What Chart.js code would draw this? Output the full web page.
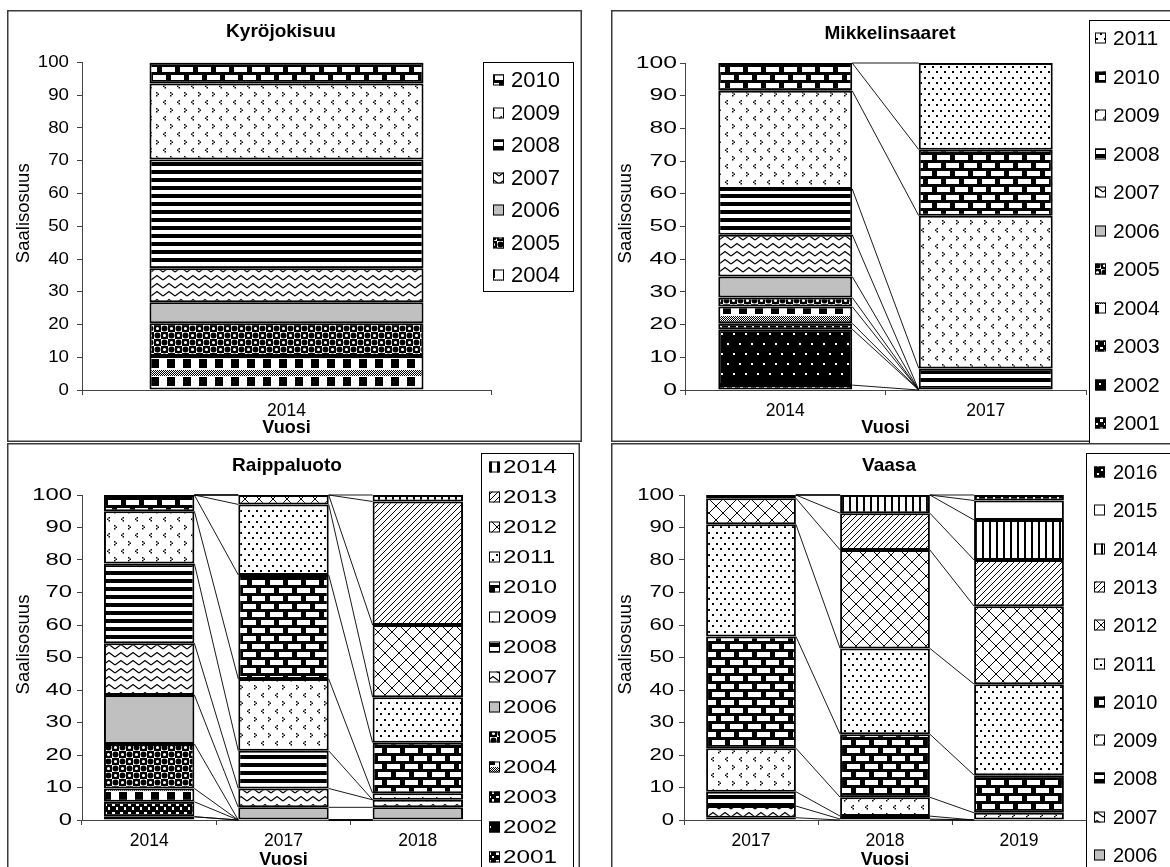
<!DOCTYPE html>
<html>
<head>
<meta charset="utf-8">
<title>Saalisosuus vuosiluokittain</title>
<script src="https://cdn.jsdelivr.net/npm/chart.js@4/dist/chart.umd.min.js"></script>
<style>
  html, body { margin: 0; padding: 0; background: #fff; }
  body { width: 1170px; height: 867px; overflow: hidden; position: relative; }
  canvas { position: absolute; display: block; }
</style>
</head>
<body>
<canvas id="kyro"  width="576" height="433" style="left:7px;top:10px;width:576px;height:433px"></canvas>
<canvas id="mikk"  width="570" height="433" style="left:611px;top:10px;width:570px;height:433px"></canvas>
<canvas id="raip"  width="576" height="430" style="left:7px;top:443px;width:576px;height:430px"></canvas>
<canvas id="vaasa" width="570" height="430" style="left:611px;top:443px;width:570px;height:430px"></canvas>
<script>
// ---- data: share (%) of the catch by year class ----
const shareTicks = [0, 10, 20, 30, 40, 50, 60, 70, 80, 90, 100];

const kyroYears   = ['2014'];
const kyroCohorts = ['2004', '2005', '2006', '2007', '2008', '2009', '2010'];
const kyro2014    = [10.4, 10.0, 6.4, 10.4, 33.2, 23.2, 6.4];

const mikkYears   = ['2014', '2017'];
const mikkCohorts = ['2001', '2002', '2003', '2004', '2005', '2006', '2007', '2008', '2009', '2010', '2011'];
const mikk2014    = [1.5, 17.1, 1.8, 5.1, 2.8, 6.4, 12.8, 14.0, 30.0, 8.5, 0];
const mikk2017    = [0, 0, 0, 0, 0, 0, 0, 6.6, 46.7, 20.2, 26.5];

const raipYears   = ['2014', '2017', '2018'];
const raipCohorts = ['2001', '2002', '2003', '2004', '2005', '2006', '2007', '2008', '2009', '2010', '2011', '2012', '2013', '2014'];
const raip2014    = [1.0, 0, 4.6, 4.1, 13.7, 15.1, 15.9, 24.5, 16.1, 5.0, 0, 0, 0, 0];
const raip2017    = [0, 0, 0, 0, 0, 3.9, 5.8, 11.6, 22.1, 32.0, 21.7, 2.9, 0, 0];
const raip2018    = [0, 0, 0, 0, 0, 3.9, 2.3, 0, 2.0, 15.6, 14.0, 22.2, 38.0, 2.0];

const vaasaYears   = ['2017', '2018', '2019'];
const vaasaCohorts = ['2006', '2007', '2008', '2009', '2010', '2011', '2012', '2013', '2014', '2015', '2016'];
const vaasa2017    = [0.7, 3.6, 4.4, 13.4, 34.4, 34.5, 8.0, 1.0, 0, 0, 0];
const vaasa2018    = [0, 0.3, 0.9, 5.8, 19.4, 26.4, 30.3, 11.3, 5.6, 0, 0];
const vaasa2019    = [0, 0, 0, 2.2, 11.6, 28.0, 24.0, 14.2, 12.3, 6.0, 1.7];

// ---- look ----
const FONT = "'Liberation Sans', Arial, sans-serif";
Chart.defaults.font.family = FONT;
Chart.defaults.color = '#000';

// monochrome fill patterns, one per year class
function tile(w, h, paint) {
  const c = document.createElement('canvas');
  c.width = w; c.height = h;
  const g = c.getContext('2d');
  paint(g, w, h);
  return g.createPattern(c, 'repeat');
}
const B = '#000', W = '#fff';
const fills = {
  '2001': tile(8, 8, g => { g.fillStyle = B; g.fillRect(0, 0, 8, 8); g.fillStyle = W; g.fillRect(1, 1, 3, 3); g.fillRect(5, 5, 2, 2); }),
  '2002': tile(12, 20, g => { g.fillStyle = B; g.fillRect(0, 0, 12, 20); g.fillStyle = W; g.fillRect(2, 3, 2, 2); g.fillRect(8, 13, 2, 2); }),
  '2003': tile(8, 8, g => { g.fillStyle = B; g.fillRect(0, 0, 8, 8); g.fillStyle = W; g.fillRect(1, 1, 3, 2); g.fillRect(5, 4, 2, 3); }),
  '2004': tile(16, 18, g => {
    g.fillStyle = W; g.fillRect(0, 0, 16, 18); g.fillStyle = B;
    for (let y = 0; y < 6; y++) for (let x = 0; x < 16; x++) if ((x + y) % 2 === 0) g.fillRect(x, y, 1, 1);
    g.fillRect(0, 7, 8, 9);
  }),
  '2005': tile(14, 14, g => {
    g.fillStyle = W; g.fillRect(0, 0, 14, 14);
    g.fillStyle = B; g.fillRect(0, 0, 7, 7); g.fillRect(7, 7, 7, 7);
    g.beginPath(); g.arc(10.5, 3.5, 3, 0, Math.PI * 2); g.arc(3.5, 10.5, 3, 0, Math.PI * 2); g.fill();
    g.fillStyle = W; g.beginPath(); g.arc(3.5, 3.5, 1.6, 0, Math.PI * 2); g.arc(10.5, 10.5, 1.6, 0, Math.PI * 2); g.fill();
  }),
  '2006': '#c0c0c0',
  '2007': tile(12, 8, g => {
    g.fillStyle = W; g.fillRect(0, 0, 12, 8);
    g.strokeStyle = B; g.lineWidth = 1.2;
    g.beginPath(); g.moveTo(0, 6); g.lineTo(6, 1.5); g.lineTo(12, 6); g.stroke();
  }),
  '2008': tile(4, 8, g => { g.fillStyle = W; g.fillRect(0, 0, 4, 8); g.fillStyle = B; g.fillRect(0, 0, 4, 4); }),
  '2009': tile(14, 16, g => {
    g.fillStyle = W; g.fillRect(0, 0, 14, 16); g.fillStyle = B;
    g.fillRect(9, 2, 1.5, 1.5); g.fillRect(10.5, 3.5, 1.5, 1.5); g.fillRect(9, 5, 1.5, 1.5);
    g.fillRect(3.5, 10, 1.5, 1.5); g.fillRect(2, 11.5, 1.5, 1.5); g.fillRect(3.5, 13, 1.5, 1.5);
  }),
  '2010': tile(18, 16, g => {
    g.fillStyle = B; g.fillRect(0, 0, 18, 16); g.fillStyle = W;
    g.fillRect(2, 1, 13, 5); g.fillRect(11, 9, 7, 5); g.fillRect(0, 9, 6, 5);
  }),
  '2011': tile(8, 11, g => { g.fillStyle = W; g.fillRect(0, 0, 8, 11); g.fillStyle = B; g.fillRect(1, 1, 2, 2); g.fillRect(5, 6, 2, 2); }),
  '2012': tile(14, 14, g => {
    g.fillStyle = W; g.fillRect(0, 0, 14, 14);
    g.strokeStyle = B; g.lineWidth = 1;
    g.beginPath(); g.moveTo(0, 0); g.lineTo(14, 14); g.moveTo(14, 0); g.lineTo(0, 14); g.stroke();
  }),
  '2013': tile(6, 6, g => {
    g.fillStyle = W; g.fillRect(0, 0, 6, 6);
    g.strokeStyle = B; g.lineWidth = 1;
    g.beginPath(); g.moveTo(0, 6); g.lineTo(6, 0); g.moveTo(-1, 1); g.lineTo(1, -1); g.moveTo(5, 7); g.lineTo(7, 5); g.stroke();
  }),
  '2014': tile(7, 1, g => { g.fillStyle = W; g.fillRect(0, 0, 7, 1); g.fillStyle = B; g.fillRect(0, 0, 2, 1); }),
  '2015': '#ffffff',
  '2016': tile(8, 8, g => { g.fillStyle = B; g.fillRect(0, 0, 8, 8); g.fillStyle = W; g.fillRect(2, 2, 2, 2); g.fillRect(6, 6, 2, 2); })
};

// y scale with horizontally widened tick labels and a raised axis title
class WideTickLinear extends Chart.LinearScale {
  drawLabels(chartArea) {
    const sx = this.options.ticks.stretchX || 1;
    const ax = this.right - this.options.grid.tickLength - this.options.ticks.padding;
    const ctx = this.ctx;
    ctx.save();
    ctx.translate(ax, 0); ctx.scale(sx, 1); ctx.translate(-ax, 0);
    super.drawLabels(chartArea);
    ctx.restore();
  }
  drawTitle() {
    const ctx = this.ctx;
    ctx.save();
    ctx.translate(0, this.options.title.shiftY || 0);
    super.drawTitle();
    ctx.restore();
  }
}
WideTickLinear.id = 'wideTickLinear';
Chart.register(WideTickLinear);

// lines joining the top of each year class between neighbouring columns
const seriesLines = {
  id: 'seriesLines',
  afterDatasetsDraw(chart) {
    const ctx = chart.ctx;
    ctx.save();
    ctx.strokeStyle = '#000';
    ctx.lineWidth = 0.9;
    chart.data.datasets.forEach((ds, i) => {
      const bars = chart.getDatasetMeta(i).data;
      for (let k = 0; k < bars.length - 1; k++) {
        const a = bars[k], b = bars[k + 1];
        ctx.beginPath();
        ctx.moveTo(a.x + a.width / 2, a.y);
        ctx.lineTo(b.x - b.width / 2, b.y);
        ctx.stroke();
      }
    });
    ctx.restore();
  }
};

// white background, panel frame and panel title
const panelFrame = {
  id: 'panelFrame',
  beforeDraw(chart) {
    const ctx = chart.ctx;
    ctx.save();
    ctx.fillStyle = '#fff';
    ctx.fillRect(0, 0, chart.width, chart.height);
    ctx.restore();
  },
  afterDraw(chart, args, o) {
    const ctx = chart.ctx;
    ctx.save();
    ctx.strokeStyle = '#3a3a3a';
    ctx.lineWidth = 1.5;
    ctx.strokeRect(o.x, o.y, o.w, o.h);
    ctx.fillStyle = '#000';
    ctx.font = 'bold ' + o.titleSize + 'px ' + FONT;
    ctx.textAlign = 'center';
    ctx.textBaseline = 'middle';
    ctx.fillText(o.title, o.tx, o.ty);
    ctx.restore();
  }
};

// boxed legend, newest year class on top
const boxLegend = {
  id: 'boxLegend',
  afterDraw(chart, args, o) {
    const ctx = chart.ctx;
    ctx.save();
    ctx.fillStyle = '#fff';
    ctx.fillRect(o.x, o.y, o.w, o.h);
    ctx.strokeStyle = '#000';
    ctx.lineWidth = 1;
    ctx.strokeRect(o.x + 0.5, o.y + 0.5, o.w, o.h);
    const items = chart.data.datasets.map(d => ({ label: d.label, fill: d.backgroundColor })).reverse();
    ctx.font = o.size + 'px ' + FONT;
    ctx.textBaseline = 'middle';
    ctx.textAlign = 'left';
    items.forEach((it, i) => {
      const cy = Math.round(o.first + i * o.step);
      ctx.fillStyle = it.fill;
      ctx.fillRect(o.iconX, cy - o.icon / 2, o.icon, o.icon);
      ctx.strokeStyle = '#000';
      ctx.strokeRect(o.iconX + 0.5, cy - o.icon / 2 + 0.5, o.icon - 1, o.icon - 1);
      ctx.save();
      ctx.translate(o.textX, cy + 1);
      ctx.scale(o.sx || 1, 1);
      ctx.fillStyle = '#000';
      ctx.fillText(it.label, 0, 0);
      ctx.restore();
    });
    ctx.restore();
  }
};

function panel(id, years, cohorts, valuesByYear, g) {
  const datasets = cohorts.map((c, k) => ({
    label: c,
    data: valuesByYear.map(v => v[k]),
    backgroundColor: fills[c],
    borderColor: '#000',
    borderWidth: 2,
    borderSkipped: false,
    barPercentage: 1,
    categoryPercentage: g.cat
  }));
  const el = document.getElementById(id);
  return new Chart(el, {
    type: 'bar',
    data: { labels: years, datasets },
    plugins: [panelFrame, seriesLines, boxLegend],
    options: {
      responsive: false,
      animation: false,
      events: [],
      layout: { padding: { left: 0, top: g.top, right: el.width - g.right, bottom: 0 } },
      scales: {
        x: {
          stacked: true,
          offset: true,
          grid: { display: true, offset: true, drawOnChartArea: false, tickLength: 5, color: '#444' },
          border: { display: true, color: '#444', width: 1 },
          ticks: { font: { size: g.xTick }, padding: g.xPad, maxRotation: 0 },
          title: { display: true, text: 'Vuosi', font: { size: 18, weight: 'bold' }, padding: { top: 0, bottom: g.titlePad } },
          afterFit: s => { s.height = el.height - g.bottom; }
        },
        y: {
          type: 'wideTickLinear',
          stacked: true,
          min: 0,
          max: 100,
          afterBuildTicks: s => { s.ticks = shareTicks.map(v => ({ value: v })); },
          grid: { display: true, drawOnChartArea: false, tickLength: 5, color: '#444' },
          border: { display: true, color: '#444', width: 1 },
          ticks: { font: { size: g.yTick }, padding: g.yPad, stretchX: g.sx },
          title: { display: true, text: 'Saalisosuus', font: { size: 18.5 }, padding: { top: g.yTitlePad, bottom: 0 }, shiftY: -13 },
          afterFit: s => { s.width = g.left; }
        }
      },
      plugins: {
        legend: { display: false },
        tooltip: { enabled: false },
        panelFrame: g.frame,
        boxLegend: g.legend
      }
    }
  });
}

panel('kyro', kyroYears, kyroCohorts, [kyro2014], {
  left: 75, right: 484, top: 52.5, bottom: 380, cat: 0.67,
  xTick: 17.5, xPad: 6, titlePad: 4, yTick: 17, yPad: 8, sx: 1.1, yTitlePad: 6,
  frame: { x: 0.75, y: 0.75, w: 573.5, h: 430.5, title: 'Kyröjokisuu', titleSize: 19, tx: 274, ty: 22 },
  legend: { x: 476, y: 52, w: 90, h: 229, first: 70, step: 32.5, icon: 11, iconX: 486, textX: 504, size: 22, sx: 1 }
});

panel('mikk', mikkYears, mikkCohorts, [mikk2014, mikk2017], {
  left: 74, right: 475, top: 53, bottom: 380, cat: 0.668,
  xTick: 17.5, xPad: 6, titlePad: 4, yTick: 17, yPad: 3, sx: 1.45, yTitlePad: 4,
  frame: { x: 0.75, y: 0.75, w: 600, h: 430.5, title: 'Mikkelinsaaret', titleSize: 19, tx: 279, ty: 24 },
  legend: { x: 478, y: 10, w: 120, h: 440, first: 28, step: 38.5, icon: 11, iconX: 484, textX: 502, size: 21, sx: 1 }
});

panel('raip', raipYears, raipCohorts, [raip2014, raip2017, raip2018], {
  left: 75, right: 478, top: 52, bottom: 377, cat: 0.673,
  xTick: 17.5, xPad: 6, titlePad: 2, yTick: 17, yPad: 5, sx: 1.4, yTitlePad: 6,
  frame: { x: 0.75, y: 0.75, w: 571.5, h: 500, title: 'Raippaluoto', titleSize: 19, tx: 280, ty: 23 },
  legend: { x: 474, y: 10, w: 92, h: 460, first: 24, step: 30, icon: 11, iconX: 482, textX: 496, size: 18, sx: 1.35 }
});

panel('vaasa', vaasaYears, vaasaCohorts, [vaasa2017, vaasa2018, vaasa2019], {
  left: 73, right: 475, top: 52, bottom: 377, cat: 0.67,
  xTick: 17.5, xPad: 6, titlePad: 2, yTick: 17, yPad: 5, sx: 1.3, yTitlePad: 4,
  frame: { x: 0.75, y: 0.75, w: 600, h: 500, title: 'Vaasa', titleSize: 19, tx: 278, ty: 23 },
  legend: { x: 475, y: 10, w: 120, h: 460, first: 29, step: 38.3, icon: 11, iconX: 483, textX: 502, size: 20, sx: 1 }
});
</script>
</body>
</html>
